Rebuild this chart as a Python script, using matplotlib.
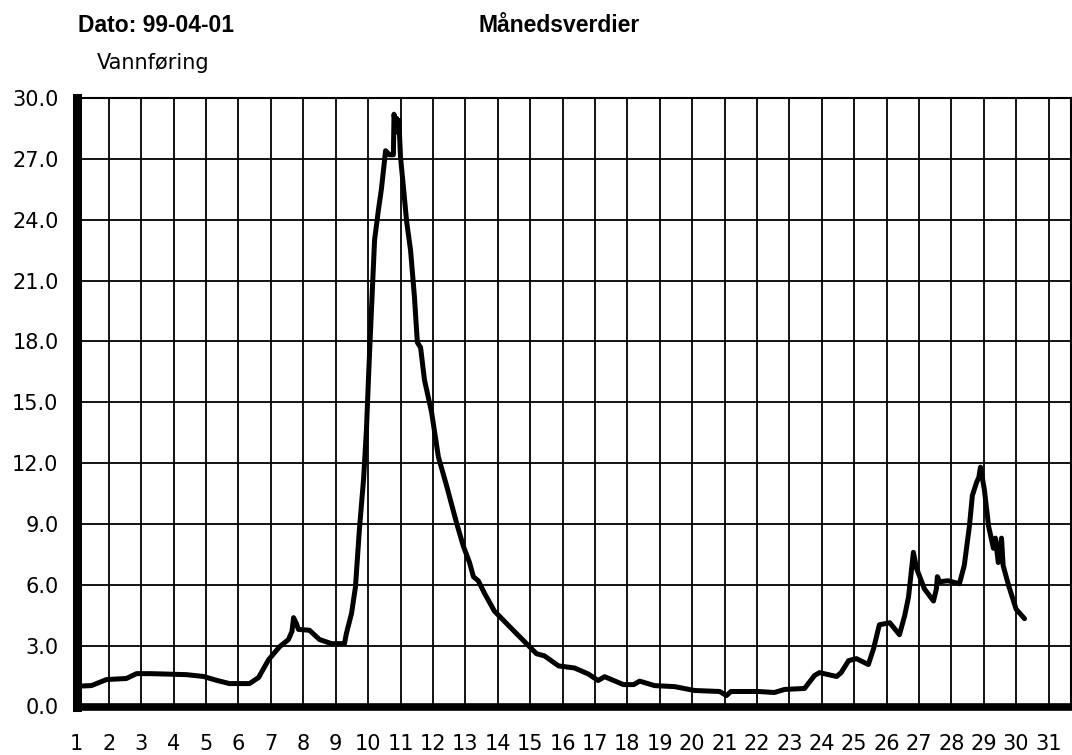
import matplotlib
matplotlib.use("Agg")
import matplotlib.pyplot as plt

# ---- data ----
day = [1.0, 1.46, 1.93, 2.54, 2.85, 3.3, 4.40, 4.92, 5.3, 5.72, 6.34, 6.62, 6.93,
       7.27, 7.54, 7.65, 7.70, 7.79, 7.85, 8.19, 8.50, 8.87, 9.27, 9.33, 9.49,
       9.61, 9.73, 9.86, 9.95, 10.01, 10.06, 10.2, 10.32, 10.41, 10.54, 10.66,
       10.78, 10.8, 10.85, 10.88, 10.92, 10.95, 11.0, 11.09, 11.19, 11.31, 11.43,
       11.52, 11.62, 11.74, 11.96, 12.17, 12.42, 12.73, 12.94, 13.13, 13.25, 13.4,
       13.6, 13.9, 14.33, 14.95, 15.2, 15.44, 15.88, 16.37, 16.8, 17.1, 17.3,
       17.88, 18.2, 18.38, 18.84, 19.46, 20.07, 20.85, 21.06, 21.2, 22.05, 22.54,
       22.85, 23.47, 23.78, 23.93, 24.46, 24.6, 24.83, 25.07, 25.44, 25.6, 25.78,
       26.1, 26.4, 26.56, 26.68, 26.83, 26.93, 27.17, 27.45, 27.54, 27.57, 27.64,
       27.9, 28.25, 28.4, 28.56, 28.65, 28.78, 28.85, 28.9, 29.02, 29.15, 29.3,
       29.36, 29.45, 29.55, 29.6, 29.77, 30.0, 30.26]
flow = [1.0, 1.03, 1.33, 1.38, 1.62, 1.62, 1.57, 1.48, 1.3, 1.13, 1.13, 1.43, 2.31,
        2.95, 3.3, 3.7, 4.38, 4.08, 3.8, 3.76, 3.3, 3.1, 3.1, 3.6, 4.6,
        5.9, 8.7, 11.2, 13.7, 16.1, 18.0, 23.0, 24.5, 25.5, 27.4, 27.2,
        27.2, 29.2, 28.6, 29.0, 28.3, 28.9, 27.1, 25.6, 23.9, 22.5, 20.2,
        17.95, 17.7, 16.1, 14.5, 12.3, 10.9, 9.05, 7.9, 7.1, 6.4, 6.2,
        5.56, 4.7, 4.0, 3.0, 2.6, 2.5, 2.0, 1.9, 1.6, 1.28, 1.47,
        1.08, 1.08, 1.25, 1.03, 0.98, 0.79, 0.74, 0.54, 0.74, 0.74, 0.69,
        0.84, 0.89, 1.53, 1.67, 1.48, 1.67, 2.26, 2.36, 2.07, 2.85, 4.03,
        4.13, 3.54, 4.47, 5.4, 7.6, 6.8, 5.8, 5.2, 5.8, 6.4, 6.15,
        6.2, 6.05, 6.95, 8.9, 10.4, 11.05, 11.3, 11.8, 10.7, 8.9, 7.8,
        8.3, 7.1, 8.3, 6.95, 5.96, 4.8, 4.33]

x_ticks = list(range(1, 32))
x_labels = [str(d) for d in x_ticks]
y_ticks = [0, 3, 6, 9, 12, 15, 18, 21, 24, 27, 30]
y_labels = ["%.1f" % v for v in y_ticks]

W, H = 1072, 755
fig = plt.figure(figsize=(W / 100, H / 100), dpi=100)
left_px, right_px, top_px, bot_px = 76.5, 1071, 98, 706.5
ax = fig.add_axes([left_px / W, 1 - bot_px / H, (right_px - left_px) / W, (bot_px - top_px) / H])

ax.set_xlim(1, 1 + (right_px - left_px) / 32.4)
ax.set_ylim(0, 30)
ax.set_xticks(x_ticks)
ax.set_xticklabels(x_labels)
ax.set_yticks(y_ticks)
ax.set_yticklabels(y_labels)

ax.grid(True, color="black", linewidth=1.3)
ax.set_axisbelow(True)
ax.tick_params(axis="both", length=0, labelsize=15)
ax.tick_params(axis="y", pad=13)
ax.tick_params(axis="x", pad=20)
for lab in ax.get_xticklabels() + ax.get_yticklabels():
    lab.set_family("DejaVu Sans")

ax.spines["left"].set_linewidth(6.5)
ax.spines["bottom"].set_linewidth(5.5)
ax.spines["top"].set_linewidth(1.5)
ax.spines["right"].set_linewidth(1.5)
for s in ax.spines.values():
    s.set_color("black")

ax.plot(day, flow, color="black", linewidth=3.6, solid_joinstyle="round",
        solid_capstyle="round", zorder=3, clip_on=False)

fig.text(78 / W, 1 - 26 / H, "Dato: 99-04-01", fontsize=16.5, fontweight="bold",
         family="Liberation Sans", ha="left", va="center")
fig.text(559 / W, 1 - 26 / H, "Månedsverdier", fontsize=16.5, fontweight="bold",
         family="Liberation Sans", ha="center", va="center")
fig.text(97 / W, 1 - 63 / H, "Vannføring", fontsize=15, family="DejaVu Sans",
         ha="left", va="center")

fig.savefig("out.png", dpi=100, facecolor="white")
